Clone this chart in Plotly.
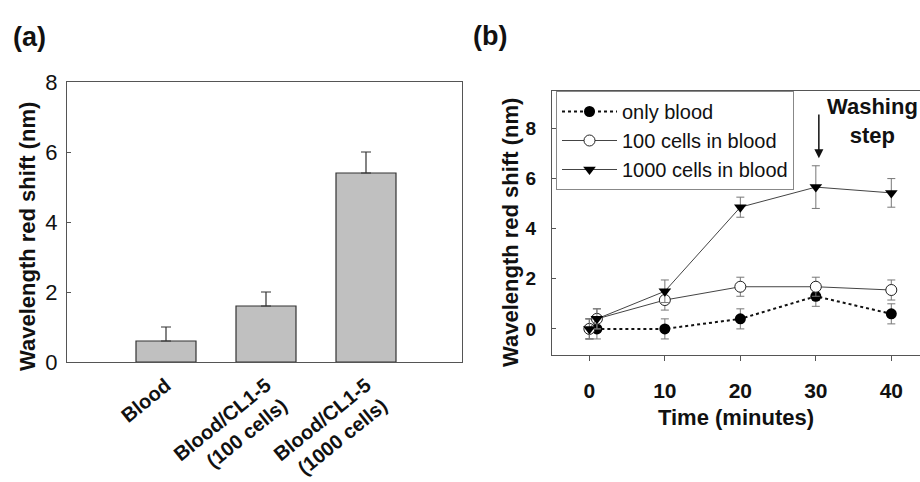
import plotly.graph_objects as go

# Panel (a) data
bar_categories = ["Blood", "Blood/CL1-5<br>(100 cells)", "Blood/CL1-5<br>(1000 cells)"]
bar_values = [0.6, 1.6, 5.4]
bar_errors = [0.4, 0.4, 0.6]

# Panel (b) data
time_min = [0, 1, 10, 20, 30, 40]
only_blood = [0.0, 0.0, 0.0, 0.4, 1.3, 0.6]
only_blood_err = [0.4, 0.4, 0.4, 0.4, 0.4, 0.4]
cells_100 = [0.0, 0.4, 1.15, 1.68, 1.68, 1.55]
cells_100_err = [0.4, 0.4, 0.4, 0.38, 0.38, 0.4]
cells_1000 = [0.0, 0.4, 1.5, 4.85, 5.65, 5.42]
cells_1000_err = [0.4, 0.4, 0.45, 0.4, 0.85, 0.57]

FONT = "Liberation Sans, Arial, sans-serif"
W, H = 920, 482

fig = go.Figure()

fig.add_trace(go.Bar(
    x=list(range(len(bar_categories))), y=bar_values,
    width=0.6,
    marker=dict(color="#c0c0c0", line=dict(color="#333333", width=1.2)),
    error_y=dict(type="data", array=bar_errors, arrayminus=[0]*3, symmetric=False,
                 color="#333333", thickness=1.2, width=5),
    xaxis="x", yaxis="y", showlegend=False,
))

line_col = "#444444"
fig.add_trace(go.Scatter(
    x=time_min, y=only_blood, name="only blood", mode="lines+markers",
    line=dict(color="#111111", width=2, dash="dot"),
    marker=dict(symbol="circle", size=11, color="#000000"),
    error_y=dict(type="data", array=only_blood_err, color="#777777", thickness=1, width=4),
    xaxis="x2", yaxis="y2",
))
fig.add_trace(go.Scatter(
    x=time_min, y=cells_100, name="100 cells in blood", mode="lines+markers",
    line=dict(color=line_col, width=1),
    marker=dict(symbol="circle", size=11, color="white", line=dict(color="#222222", width=1)),
    error_y=dict(type="data", array=cells_100_err, color="#777777", thickness=1, width=4),
    xaxis="x2", yaxis="y2",
))
fig.add_trace(go.Scatter(
    x=time_min, y=cells_1000, name="1000 cells in blood", mode="lines+markers",
    line=dict(color=line_col, width=1),
    marker=dict(symbol="triangle-down", size=11, color="#000000"),
    error_y=dict(type="data", array=cells_1000_err, color="#777777", thickness=1, width=4),
    xaxis="x2", yaxis="y2",
))

axcol = "#555555"
fig.update_layout(
    width=W, height=H,
    margin=dict(l=0, r=0, t=0, b=0, autoexpand=False),
    paper_bgcolor="white", plot_bgcolor="white",
    font=dict(family=FONT, color="#111111"),
    xaxis=dict(domain=[67/W, 462/W], range=[-0.99, 2.96], automargin=False,
               tickvals=list(range(len(bar_categories))), ticktext=bar_categories,
               tickangle=-39, tickfont=dict(size=20, family=FONT, weight="bold"),
               ticklabelstandoff=3,
               showline=True, linecolor=axcol, linewidth=1.2, mirror=True,
               showgrid=False, zeroline=False, ticks="", anchor="y"),
    yaxis=dict(domain=[1-362/H, 1-82/H], range=[0, 8], dtick=2, automargin=False,
               tickfont=dict(size=22, family=FONT),
               showline=True, linecolor=axcol, linewidth=1.2, mirror=True,
               showgrid=False, zeroline=False, ticks="inside", ticklen=4, tickcolor=axcol,
               ticklabelstandoff=4, anchor="x"),
    xaxis2=dict(domain=[552/W, 1.0], range=[-4.95, 43.8], automargin=False,
                tickvals=[0, 10, 20, 30, 40],
                tickfont=dict(size=21, family=FONT, weight="bold"),
                ticks="outside", ticklen=5, tickcolor=axcol, ticklabelstandoff=12,
                showline=True, linecolor=axcol, linewidth=1.2, mirror=True,
                showgrid=False, zeroline=False, anchor="y2",
                title=dict(text="<b>Time (minutes)</b>", font=dict(size=22, family=FONT), standoff=8)),
    yaxis2=dict(domain=[1-355/H, 1-91/H], range=[-1.04, 9.48], automargin=False,
                tickvals=[0, 2, 4, 6, 8],
                tickfont=dict(size=19, family=FONT, weight="bold"),
                ticks="inside", ticklen=4, tickcolor=axcol, ticklabelstandoff=11,
                showline=True, linecolor=axcol, linewidth=1.2, mirror=True,
                showgrid=False, zeroline=False, anchor="x2"),
    legend=dict(x=556/W, y=1-91/H, xanchor="left", yanchor="top",
                bgcolor="white", bordercolor="#888888", borderwidth=1,
                font=dict(size=20, family=FONT), itemwidth=55, tracegroupgap=0),
    showlegend=True,
)

# y-axis titles (placed as rotated text, offset as in the reference)
fig.add_annotation(text="<b>Wavelength red shift (nm)</b>", xref="paper", yref="paper",
                   x=27/W, y=1-237/H, xanchor="center", yanchor="middle", textangle=-90,
                   showarrow=False, font=dict(size=22, family=FONT))
fig.add_annotation(text="<b>Wavelength red shift (nm)</b>", xref="paper", yref="paper",
                   x=510/W, y=1-233/H, xanchor="center", yanchor="middle", textangle=-90,
                   showarrow=False, font=dict(size=22, family=FONT))

fig.add_annotation(text="<b>(a)</b>", xref="paper", yref="paper", x=11/W, y=1-37/H,
                   xanchor="left", yanchor="middle", showarrow=False,
                   font=dict(size=27, family=FONT))
fig.add_annotation(text="<b>(b)</b>", xref="paper", yref="paper", x=471/W, y=1-36/H,
                   xanchor="left", yanchor="middle", showarrow=False,
                   font=dict(size=27, family=FONT))
fig.add_annotation(text="<b>Washing<br>step</b>", xref="paper", yref="paper", x=872/W, y=1-121/H,
                   xanchor="center", yanchor="middle", showarrow=False,
                   font=dict(size=22, family=FONT))
fig.add_annotation(x=30.4, y=6.8, ax=30.4, ay=8.6, xref="x2", yref="y2", axref="x2", ayref="y2",
                   text="", showarrow=True, arrowhead=2, arrowsize=1.2, arrowwidth=1.5,
                   arrowcolor="#111111")

fig.write_html("out.html")
